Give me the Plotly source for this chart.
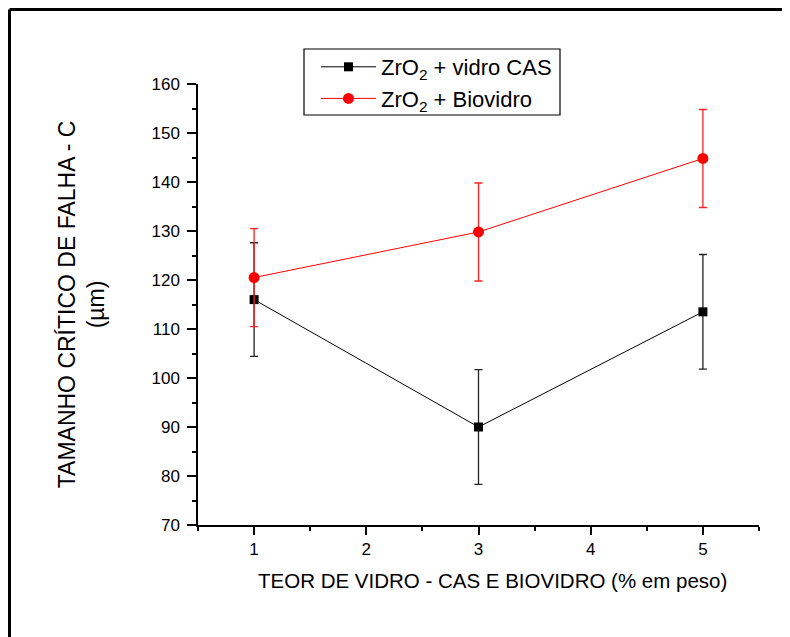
import plotly.graph_objects as go

x_vals = [1, 3, 5]
cas_vals = [116.0, 90.0, 113.5]
cas_err = [11.6, 11.7, 11.7]
bio_vals = [120.5, 129.8, 144.8]
bio_err = [10.0, 10.0, 10.0]
x_ticks = [1, 2, 3, 4, 5]
y_ticks = [70, 80, 90, 100, 110, 120, 130, 140, 150, 160]
x_title = "TEOR DE VIDRO - CAS E BIOVIDRO (% em peso)"
y_title = "TAMANHO CRÍTICO DE FALHA - C<br>(µm)"

FONT = "Arial, Liberation Sans, Helvetica, sans-serif"

fig = go.Figure()
fig.add_trace(go.Scatter(
    x=x_vals, y=cas_vals, mode="lines+markers",
    name="ZrO<sub>2</sub> + vidro CAS",
    line=dict(color="black", width=1),
    marker=dict(symbol="square", size=9, color="black"),
    error_y=dict(type="data", array=cas_err, visible=True, color="#222222", thickness=1.3, width=4),
))
fig.add_trace(go.Scatter(
    x=x_vals, y=bio_vals, mode="lines+markers",
    name="ZrO<sub>2</sub> + Biovidro",
    line=dict(color="red", width=1),
    marker=dict(symbol="circle", size=11, color="red"),
    error_y=dict(type="data", array=bio_err, visible=True, color="#ff2020", thickness=1.3, width=4),
))

OFF = 8  # page body margin
W, H = 790, 637
L = 198 - OFF
T = 84 - OFF
R = W - (759 - OFF)
B = H - (525 - OFF)
pw = W - L - R
ph = H - T - B

def px_x(p):  # screen px -> paper
    return (p - OFF - L) / pw

def px_y(p):
    return (H - B - (p - OFF)) / ph

fig.update_layout(
    width=W, height=H,
    margin=dict(l=L, r=R, t=T, b=B),
    paper_bgcolor="white", plot_bgcolor="white",
    font=dict(family=FONT, color="black", size=17),
    showlegend=True,
    legend=dict(
        x=px_x(316), y=px_y(46), xanchor="left", yanchor="top",
        borderwidth=0, bgcolor="rgba(0,0,0,0)",
        font=dict(family=FONT, size=22, color="black"),
        itemwidth=55, tracegroupgap=0,
    ),
    xaxis=dict(
        range=[0.5, 5.5], tickvals=x_ticks, ticktext=[str(v) for v in x_ticks],
        showline=True, linecolor="black", linewidth=1.5, mirror=False,
        ticks="outside", ticklen=8, tickwidth=1.5, tickcolor="black",
        minor=dict(dtick=0.5, tick0=0.5, ticks="outside", ticklen=4, tickwidth=1.5, tickcolor="black"),
        showgrid=False, zeroline=False,
        tickfont=dict(size=17),
    ),
    yaxis=dict(
        range=[70, 160], tickvals=y_ticks, ticktext=[str(v) for v in y_ticks],
        showline=True, linecolor="black", linewidth=1.5, mirror=False,
        ticks="outside", ticklen=9, tickwidth=1.5, tickcolor="black",
        minor=dict(dtick=5, tick0=75, ticks="outside", ticklen=4, tickwidth=1.5, tickcolor="black"),
        showgrid=False, zeroline=False,
        tickfont=dict(size=17),
        ticklabelstandoff=4,
        title=dict(text=y_title, font=dict(size=23), standoff=40),
    ),
)

# x-axis title (offset to the right as in the reference)
fig.add_annotation(text=x_title, xref="paper", yref="paper",
                   x=px_x(492), y=px_y(580), xanchor="center", yanchor="middle",
                   showarrow=False, font=dict(family=FONT, size=20.5, color="black"))

# legend box
fig.add_shape(type="rect", xref="paper", yref="paper",
              x0=px_x(304), x1=px_x(560), y0=px_y(49), y1=px_y(115),
              line=dict(color="black", width=1.2), fillcolor="rgba(0,0,0,0)")

# outer frame (left and top edges visible)
fig.add_shape(type="line", xref="paper", yref="paper",
              x0=px_x(OFF + 1.5), x1=px_x(820), y0=px_y(OFF + 1.5), y1=px_y(OFF + 1.5),
              line=dict(color="black", width=3))
fig.add_shape(type="line", xref="paper", yref="paper",
              x0=px_x(OFF + 1.5), x1=px_x(OFF + 1.5), y0=px_y(OFF + 1.5), y1=px_y(700),
              line=dict(color="black", width=3))

fig.write_html("out.html")
